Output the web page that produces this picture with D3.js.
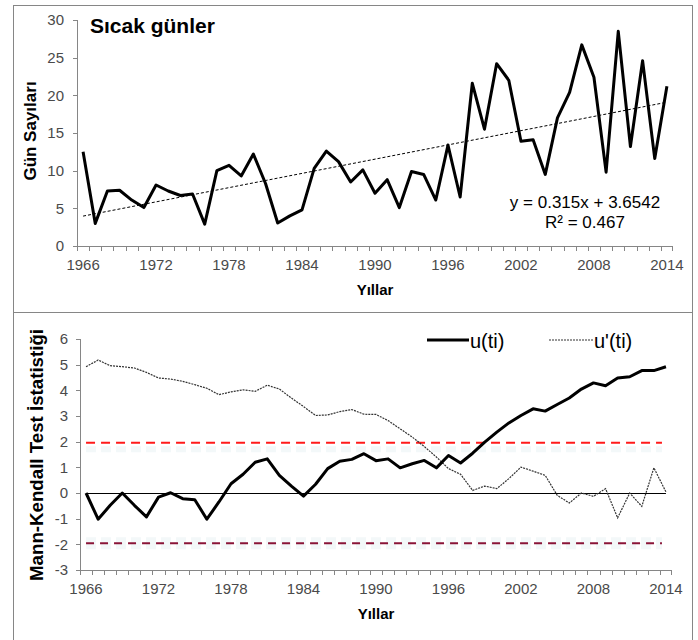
<!DOCTYPE html>
<meta charset="utf-8">
<style>
body { margin: 0; background: #fff; }
svg { display: block; font-family: Arial, "Liberation Sans", sans-serif; }
.tick-label { fill: #4a4a4a; font-size: 15px; }
.axis-title { fill: #000; font-size: 15px; font-weight: bold; }
</style>
<body>
<svg width="698" height="640"></svg>
<script src="https://cdn.jsdelivr.net/npm/d3@7"></script>
<script>

// yillar 1966-2014
var years = d3.range(1966, 2015);

// sicak gun sayilari
var hotDays = [12.5, 3.0, 7.3, 7.4, 6.1, 5.1, 8.1, 7.3, 6.7, 6.9,
  2.9, 10.0, 10.7, 9.3, 12.2, 8.3, 3.05, 4.0, 4.8, 10.3,
  12.6, 11.2, 8.5, 10.1, 7.0, 8.8, 5.1, 9.9, 9.5, 6.1,
  13.4, 6.5, 21.6, 15.5, 24.2, 22.0, 13.9, 14.1, 9.5, 17.0,
  20.4, 26.7, 22.4, 9.8, 28.5, 13.2, 24.6, 11.6, 21.2];

// trend: y = 0.315x + 3.6542
var trendSlope = 0.315,
    trendIntercept = 3.6542;

// Mann-Kendall u(ti)
var uForward = [0, -1.02, -0.48, 0, -0.48, -0.93, -0.16, 0.01, -0.22, -0.26,
  -1.02, -0.35, 0.36, 0.73, 1.2, 1.33, 0.69, 0.27, -0.12, 0.34,
  0.95, 1.24, 1.31, 1.53, 1.26, 1.33, 0.98, 1.14, 1.27, 0.98,
  1.46, 1.17, 1.55, 1.98, 2.37, 2.73, 3.02, 3.28, 3.19, 3.45,
  3.7, 4.05, 4.29, 4.18, 4.48, 4.53, 4.77, 4.77, 4.92];

// Mann-Kendall u'(ti)
var uBackward = [4.92, 5.18, 4.96, 4.92, 4.87, 4.7, 4.48, 4.44, 4.35, 4.22,
  4.08, 3.83, 3.94, 4.02, 3.96, 4.2, 4.05, 3.7, 3.37, 3.02,
  3.04, 3.17, 3.25, 3.07, 3.06, 2.82, 2.5, 2.18, 1.81, 1.4,
  0.95, 0.73, 0.1, 0.27, 0.17, 0.56, 1.01, 0.85, 0.69, -0.09,
  -0.39, 0, -0.13, 0.17, -0.97, 0, -0.52, 0.98, 0.04];

var critical = 1.96;
// kritik cizgilerin altindaki soluk izler
var ghostUpper = 1.7,
    ghostLower = -1.96;

var topTicks = [0, 5, 10, 15, 20, 25, 30],
    bottomTicks = [-3, -2, -1, 0, 1, 2, 3, 4, 5, 6],
    yearLabels = [1966, 1972, 1978, 1984, 1990, 1996, 2002, 2008, 2014];

var svg = d3.select("svg");
var axisColor = "#868686";

// panel kenarlari
svg.append("rect")
    .attr("x", 13.5).attr("y", 5.5).attr("width", 679).attr("height", 307)
    .attr("fill", "none").attr("stroke", axisColor);
svg.append("rect")
    .attr("x", 13.5).attr("y", 312.5).attr("width", 679).attr("height", 340)
    .attr("fill", "none").attr("stroke", axisColor);

function drawAxes(g, x, y, yTicks, opt) {
  var x0 = x.range()[0], x1 = x.range()[1],
      y0 = y.range()[0], y1 = y.range()[1],
      step = x.step();

  // y ekseni
  g.append("line")
      .attr("x1", x0 + 0.5).attr("x2", x0 + 0.5)
      .attr("y1", y1).attr("y2", y0)
      .attr("stroke", axisColor);
  yTicks.forEach(function(t) {
    g.append("line")
        .attr("x1", x0 - 4).attr("x2", x0)
        .attr("y1", Math.round(y(t)) + 0.5).attr("y2", Math.round(y(t)) + 0.5)
        .attr("stroke", axisColor);
    g.append("text")
        .attr("class", "tick-label")
        .attr("x", opt.yLabelX)
        .attr("y", y(t))
        .attr("dy", "0.35em")
        .attr("text-anchor", "end")
        .text(t);
  });

  // x ekseni
  g.append("line")
      .attr("x1", x0).attr("x2", x1)
      .attr("y1", y0 + 0.5).attr("y2", y0 + 0.5)
      .attr("stroke", axisColor);
  years.forEach(function(yr) {
    var bx = Math.round(x(yr) - step / 2) + 0.5;
    g.append("line")
        .attr("x1", bx).attr("x2", bx)
        .attr("y1", y0).attr("y2", y0 + 5)
        .attr("stroke", axisColor);
  });
  g.append("line")
      .attr("x1", x1 - 0.5).attr("x2", x1 - 0.5)
      .attr("y1", y0).attr("y2", y0 + 5)
      .attr("stroke", axisColor);

  yearLabels.forEach(function(yr) {
    g.append("text")
        .attr("class", "tick-label")
        .attr("x", x(yr))
        .attr("y", y0 + 24)
        .attr("text-anchor", "middle")
        .text(yr);
  });

  g.append("text")
      .attr("class", "axis-title")
      .attr("x", (x0 + x1) / 2)
      .attr("y", y0 + 49)
      .attr("text-anchor", "middle")
      .text("Yıllar");

  var t = g.append("text")
      .attr("class", "axis-title")
      .attr("transform", "translate(" + opt.titleX + "," + opt.titleY + ") rotate(-90)")
      .attr("text-anchor", "middle")
      .style("font-size", opt.titleSize + "px")
      .text(opt.title);
  if (opt.titleLength) {
    t.attr("textLength", opt.titleLength).attr("lengthAdjust", "spacingAndGlyphs");
  }
}

// ---- ust grafik ----
var xTop = d3.scalePoint().domain(years).range([77, 673]).padding(0.5),
    yTop = d3.scaleLinear().domain([0, 30]).range([246, 20]);

var gTop = svg.append("g");
drawAxes(gTop, xTop, yTop, topTicks,
  {yLabelX: 64, titleX: 36, titleY: 131, title: "Gün Sayıları", titleSize: 17});

var lineTop = d3.line()
    .x(function(d, i) { return xTop(years[i]); })
    .y(function(d) { return yTop(d); });

gTop.append("path")
    .datum(hotDays)
    .attr("fill", "none")
    .attr("stroke", "#000")
    .attr("stroke-width", 3)
    .attr("stroke-linejoin", "round")
    .attr("d", lineTop);

var trend = [1, years.length].map(function(n) {
  return {year: years[n - 1], value: trendSlope * n + trendIntercept};
});
gTop.append("line")
    .attr("x1", xTop(trend[0].year)).attr("y1", yTop(trend[0].value))
    .attr("x2", xTop(trend[1].year)).attr("y2", yTop(trend[1].value))
    .attr("stroke", "#000")
    .attr("stroke-width", 1)
    .attr("stroke-dasharray", "3,2");

gTop.append("text")
    .attr("x", 90).attr("y", 33)
    .style("font-size", "21px").style("font-weight", "bold")
    .text("Sıcak günler");

gTop.append("text")
    .attr("x", 585).attr("y", 208)
    .attr("text-anchor", "middle")
    .style("font-size", "17px")
    .text("y = 0.315x + 3.6542");
gTop.append("text")
    .attr("x", 585).attr("y", 228)
    .attr("text-anchor", "middle")
    .style("font-size", "17px")
    .text("R² = 0.467");

// ---- alt grafik ----
var xBot = d3.scalePoint().domain(years).range([80, 672]).padding(0.5),
    yBot = d3.scaleLinear().domain([-3, 6]).range([570, 339]);

var gBot = svg.append("g");
drawAxes(gBot, xBot, yBot, bottomTicks,
  {yLabelX: 68, titleX: 43, titleY: 455, title: "Mann-Kendall Test İstatistiği", titleSize: 18, titleLength: 252});

var firstX = xBot(years[0]), lastX = xBot(years[years.length - 1]);

// soluk izler
gBot.append("line")
    .attr("x1", firstX).attr("x2", lastX - 4)
    .attr("y1", yBot(ghostUpper)).attr("y2", yBot(ghostUpper))
    .attr("stroke", "#f3f8f9").attr("stroke-width", 6)
    .attr("stroke-dasharray", "10,5");
gBot.append("line")
    .attr("x1", firstX).attr("x2", lastX - 4)
    .attr("y1", yBot(ghostLower)).attr("y2", yBot(ghostLower))
    .attr("stroke", "#f3f8f9").attr("stroke-width", 12)
    .attr("stroke-dasharray", "10,5");

// kritik degerler
gBot.append("line")
    .attr("x1", firstX).attr("x2", lastX - 4)
    .attr("y1", yBot(critical)).attr("y2", yBot(critical))
    .attr("stroke", "#ff1a1a").attr("stroke-width", 2)
    .attr("stroke-dasharray", "9,6");
gBot.append("line")
    .attr("x1", firstX).attr("x2", lastX - 4)
    .attr("y1", yBot(-critical)).attr("y2", yBot(-critical))
    .attr("stroke", "#8a1538").attr("stroke-width", 2)
    .attr("stroke-dasharray", "8,6");

gBot.append("line")
    .attr("x1", firstX).attr("x2", lastX)
    .attr("y1", Math.round(yBot(0)) + 0.5).attr("y2", Math.round(yBot(0)) + 0.5)
    .attr("stroke", "#000").attr("stroke-width", 1);

var lineBot = d3.line()
    .x(function(d, i) { return xBot(years[i]); })
    .y(function(d) { return yBot(d); });

gBot.append("path")
    .datum(uBackward)
    .attr("fill", "none")
    .attr("stroke", "#333")
    .attr("stroke-width", 1.2)
    .attr("stroke-dasharray", "2,1")
    .attr("d", lineBot);

gBot.append("path")
    .datum(uForward)
    .attr("fill", "none")
    .attr("stroke", "#000")
    .attr("stroke-width", 3)
    .attr("stroke-linejoin", "round")
    .attr("d", lineBot);

// lejant
var legend = gBot.append("g");
legend.append("line")
    .attr("x1", 427).attr("x2", 469).attr("y1", 340).attr("y2", 340)
    .attr("stroke", "#000").attr("stroke-width", 3);
legend.append("text")
    .attr("x", 470).attr("y", 341).attr("dy", "0.35em")
    .style("font-size", "20px")
    .text("u(ti)");
legend.append("line")
    .attr("x1", 549).attr("x2", 593).attr("y1", 340).attr("y2", 340)
    .attr("stroke", "#333").attr("stroke-width", 1.2)
    .attr("stroke-dasharray", "2,1");
legend.append("text")
    .attr("x", 594).attr("y", 341).attr("dy", "0.35em")
    .style("font-size", "20px")
    .text("u'(ti)");

</script>
</body>
